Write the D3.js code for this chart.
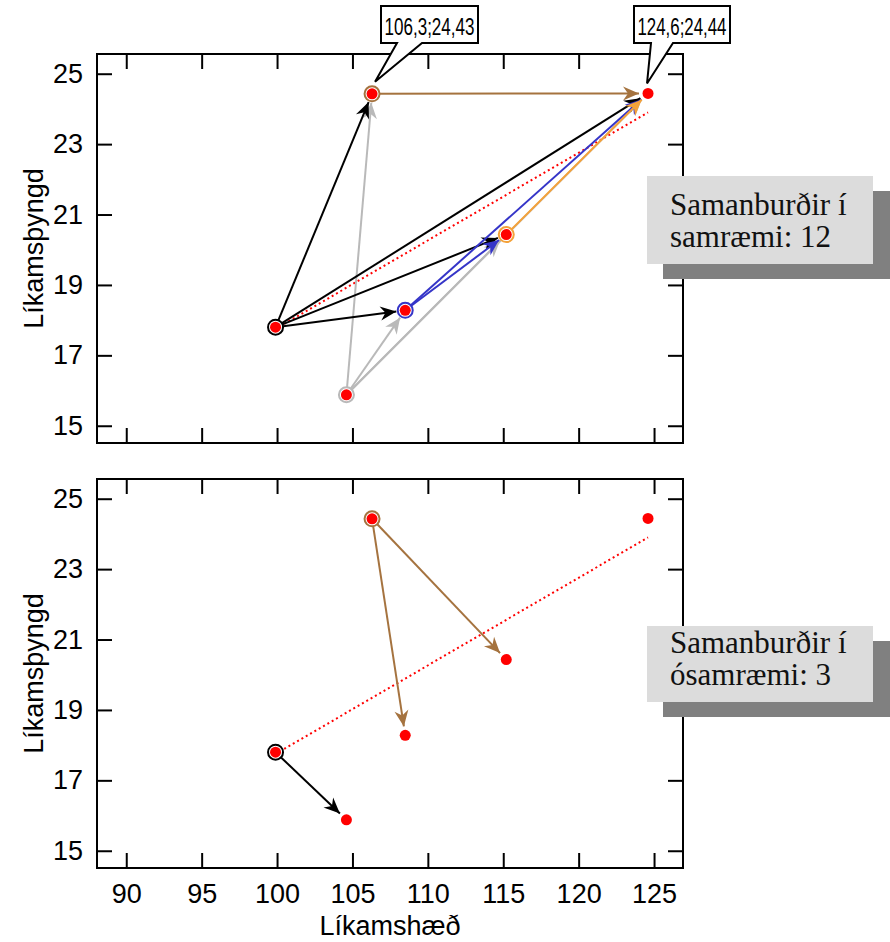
<!DOCTYPE html>
<html>
<head>
<meta charset="utf-8">
<script src="https://cdn.jsdelivr.net/npm/d3@7"></script>
<style>
  body { margin: 0; background: #fff; }
  svg { display: block; }
</style>
</head>
<body>
<script>
var w = 890;
var h = 942;

// children: height (cm) and weight (kg)
var names = ["A", "B", "C", "D", "E", "F"];
var heights = [99.9, 106.3, 124.6, 108.5, 115.2, 104.6];
var weights = [17.8, 24.43, 24.44, 18.28, 20.43, 15.88];

// comparisons in agreement (top) and disagreement (bottom), as index pairs
var agreeFrom = [5, 5, 5, 5, 0, 0, 0, 0, 3, 3, 4, 1];
var agreeTo   = [1, 3, 4, 2, 1, 2, 4, 3, 4, 2, 2, 2];
var disagreeFrom = [0, 1, 1];
var disagreeTo   = [5, 3, 4];

// fitted line ends
var fitX = [99.9, 124.6];
var fitY = [17.75, 23.9];

var xTicks = [90, 95, 100, 105, 110, 115, 120, 125];
var yTicks = [15, 17, 19, 21, 23, 25];

var srcColor = {0: "#000000", 1: "#a5733f", 3: "#3535c8", 4: "#f4a23a", 5: "#b9b9b9"};

var left = 97, right = 683;
var panels = [
  {top: 54, bottom: 443, from: agreeFrom, to: agreeTo, rings: [5, 0, 3, 4, 1],
   legend: ["Samanburðir í", "samræmi: 12"], box: [647, 176, 226, 88], line1: 215},
  {top: 479, bottom: 868, from: disagreeFrom, to: disagreeTo, rings: [0, 1],
   legend: ["Samanburðir í", "ósamræmi: 3"], box: [647, 626, 226, 76], line1: 653}
];

var xScale = d3.scaleLinear().domain([88.06, 126.92]).range([left, right]);

var svg = d3.select("body").append("svg")
  .attr("width", w)
  .attr("height", h);

var defs = svg.append("defs");
Object.keys(srcColor).forEach(function(k) {
  defs.append("marker")
    .attr("id", "arr" + k)
    .attr("viewBox", "-17 -8 18 16")
    .attr("refX", 0)
    .attr("refY", 0)
    .attr("markerUnits", "userSpaceOnUse")
    .attr("markerWidth", 18)
    .attr("markerHeight", 16)
    .attr("orient", "auto")
    .append("path")
    .attr("d", "M0,0 L-16,-7 L-11,0 L-16,7 Z")
    .attr("fill", srcColor[k]);
});

panels.forEach(function(p, pi) {
  var yScale = d3.scaleLinear().domain([14.51, 25.56]).range([p.bottom, p.top]);
  var g = svg.append("g");

  // axes, ticks inward on all four sides
  var axL = g.append("g").attr("transform", "translate(" + left + ",0)")
    .call(d3.axisLeft(yScale).tickValues(yTicks).tickSize(-15).tickSizeOuter(0).tickPadding(14));
  var axR = g.append("g").attr("transform", "translate(" + right + ",0)")
    .call(d3.axisRight(yScale).tickValues(yTicks).tickSize(-15).tickSizeOuter(0).tickFormat(""));
  var axT = g.append("g").attr("transform", "translate(0," + p.top + ")")
    .call(d3.axisTop(xScale).tickValues(xTicks).tickSize(-15).tickSizeOuter(0).tickFormat(""));
  var axB = g.append("g").attr("transform", "translate(0," + p.bottom + ")")
    .call(d3.axisBottom(xScale).tickValues(xTicks).tickSize(-15).tickSizeOuter(0).tickPadding(16)
      .tickFormat(pi == 1 ? d3.format("d") : ""));
  [axL, axR, axT, axB].forEach(function(a) {
    a.select(".domain").remove();
    a.selectAll("line").attr("stroke", "#000").attr("stroke-width", 2);
    a.selectAll("text").attr("font-family", "'Liberation Sans', Arial, sans-serif")
      .attr("font-size", 27).attr("fill", "#000");
  });

  g.append("rect")
    .attr("x", left).attr("y", p.top)
    .attr("width", right - left).attr("height", p.bottom - p.top)
    .attr("fill", "none").attr("stroke", "#000").attr("stroke-width", 2);

  g.append("text")
    .attr("transform", "translate(43," + (p.top + p.bottom) / 2 + ") rotate(-90)")
    .attr("text-anchor", "middle")
    .attr("font-family", "'Liberation Sans', Arial, sans-serif")
    .attr("font-size", 27)
    .text("Líkamsþyngd");

  // fitted line
  g.append("line")
    .attr("x1", xScale(fitX[0])).attr("y1", yScale(fitY[0]))
    .attr("x2", xScale(fitX[1])).attr("y2", yScale(fitY[1]))
    .attr("stroke", "#ff0000").attr("stroke-width", 2)
    .attr("stroke-dasharray", "2,3");

  // arrows
  g.selectAll(".arrow")
    .data(d3.range(p.from.length))
    .enter()
    .append("line")
    .attr("class", "arrow")
    .each(function(i) {
      var a = p.from[i], b = p.to[i];
      var x1 = xScale(heights[a]), y1 = yScale(weights[a]);
      var x2 = xScale(heights[b]), y2 = yScale(weights[b]);
      var len = Math.sqrt((x2 - x1) * (x2 - x1) + (y2 - y1) * (y2 - y1));
      var k = (len - 9) / len;
      d3.select(this)
        .attr("x1", x1).attr("y1", y1)
        .attr("x2", x1 + (x2 - x1) * k).attr("y2", y1 + (y2 - y1) * k)
        .attr("stroke", srcColor[a])
        .attr("stroke-width", 2)
        .attr("marker-end", "url(#arr" + a + ")");
    });

  // rings round the starting points
  g.selectAll(".ring")
    .data(p.rings)
    .enter()
    .append("circle")
    .attr("class", "ring")
    .attr("cx", function(d) { return xScale(heights[d]); })
    .attr("cy", function(d) { return yScale(weights[d]); })
    .attr("r", 7.5)
    .attr("fill", "#fff")
    .attr("stroke", function(d) { return srcColor[d]; })
    .attr("stroke-width", 2);

  g.selectAll(".dot")
    .data(names)
    .enter()
    .append("circle")
    .attr("class", "dot")
    .attr("cx", function(d, i) { return xScale(heights[i]); })
    .attr("cy", function(d, i) { return yScale(weights[i]); })
    .attr("r", 5.5)
    .attr("fill", "#ff0000");

  // legend box with shadow
  var b = p.box;
  g.append("rect")
    .attr("x", b[0] + 16).attr("y", b[1] + 15)
    .attr("width", b[2] + 1).attr("height", b[3])
    .attr("fill", "#808080");
  g.append("rect")
    .attr("x", b[0]).attr("y", b[1])
    .attr("width", b[2]).attr("height", b[3])
    .attr("fill", "#dcdcdc");
  g.selectAll(".leg")
    .data(p.legend)
    .enter()
    .append("text")
    .attr("x", b[0] + 23)
    .attr("y", function(d, i) { return p.line1 + i * 32; })
    .attr("font-family", "'Liberation Serif', 'Times New Roman', serif")
    .attr("font-size", 31)
    .attr("fill", "#111")
    .text(function(d) { return d; });

  // callouts for the two top points (top panel only)
  if (pi == 0) {
    var callouts = [
      {i: 1, box: [381, 6, 97, 37], base: [397, 422], tip: [3, -12]},
      {i: 2, box: [634, 6, 96, 37], base: [651, 673], tip: [-1, -10]}
    ];
    g.append("line")
      .attr("x1", 653).attr("y1", 55).attr("x2", 653).attr("y2", 69)
      .attr("stroke", "#000").attr("stroke-width", 1).attr("stroke-dasharray", "2,2");
    callouts.forEach(function(c) {
      var tx = xScale(heights[c.i]) + c.tip[0];
      var ty = yScale(weights[c.i]) + c.tip[1];
      var bx = c.box[0], by = c.box[1], bw = c.box[2], bh = c.box[3];
      var path = "M" + bx + "," + by + " H" + (bx + bw) + " V" + (by + bh) +
        " H" + c.base[1] + " L" + tx + "," + ty + " L" + c.base[0] + "," + (by + bh) +
        " H" + bx + " Z";
      g.append("path").attr("d", path)
        .attr("fill", "#fff").attr("stroke", "#000").attr("stroke-width", 2);
      g.append("text")
        .attr("x", bx + bw / 2)
        .attr("y", by + 29)
        .attr("text-anchor", "middle")
        .attr("font-family", "'Liberation Sans Narrow', 'Arial Narrow', 'Liberation Sans', sans-serif")
        .attr("font-size", 23)
        .attr("textLength", bw - 7)
        .attr("lengthAdjust", "spacingAndGlyphs")
        .text(heights[c.i].toString().replace(".", ",") + ";" + weights[c.i].toString().replace(".", ","));
    });
  }
});

svg.append("text")
  .attr("x", (left + right) / 2)
  .attr("y", 935)
  .attr("text-anchor", "middle")
  .attr("font-family", "'Liberation Sans', Arial, sans-serif")
  .attr("font-size", 27)
  .text("Líkamshæð");
</script>
</body>
</html>
